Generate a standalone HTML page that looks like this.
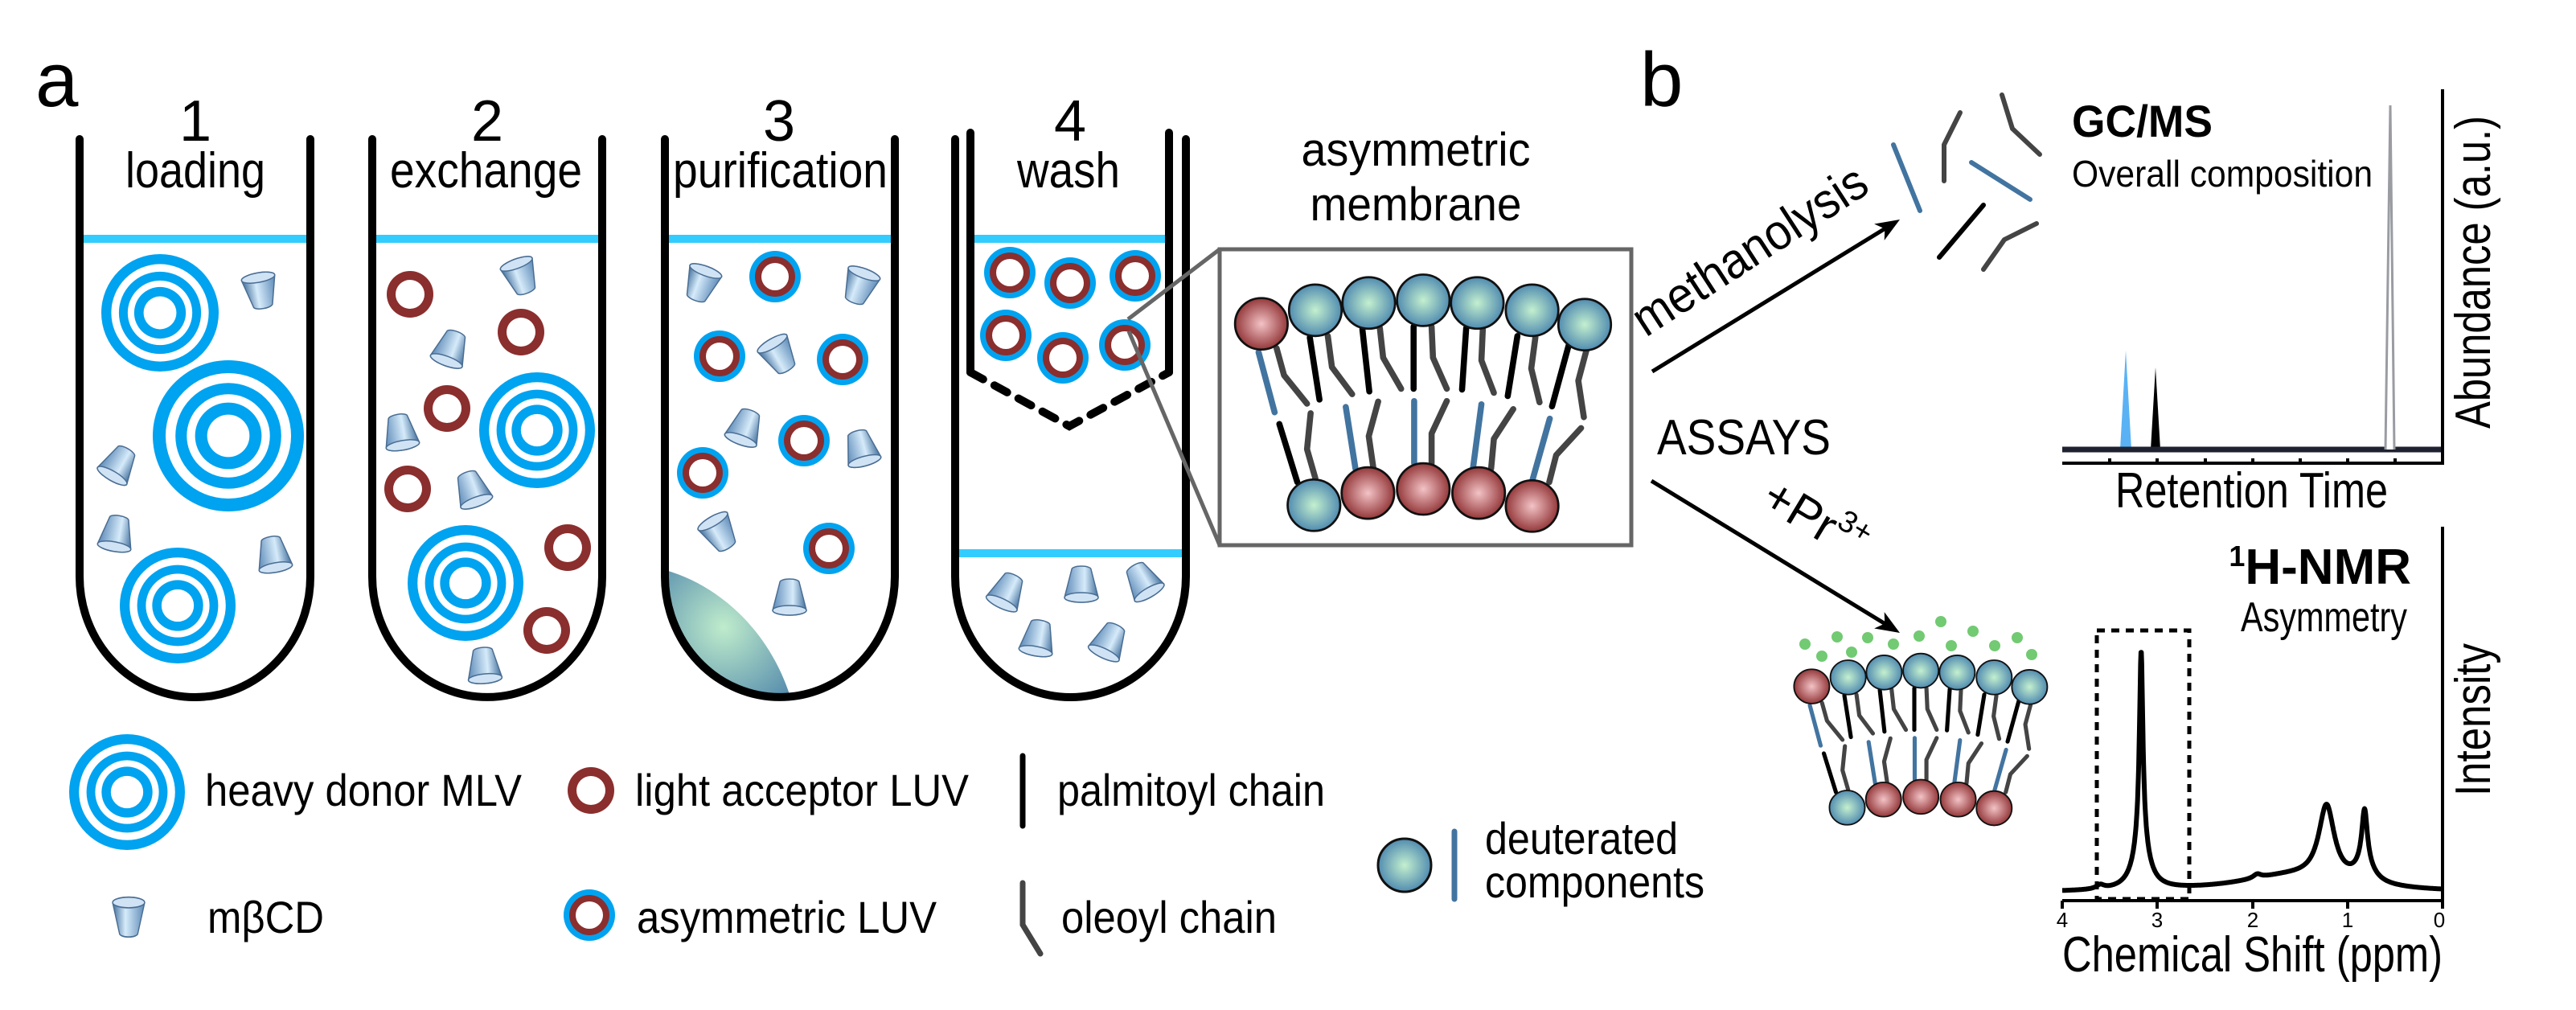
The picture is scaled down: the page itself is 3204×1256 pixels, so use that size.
<!DOCTYPE html>
<html><head><meta charset="utf-8"><style>
html,body{margin:0;padding:0;background:#fff}
svg{display:block}
text{font-family:"Liberation Sans",Arial,sans-serif;fill:#000}
</style></head><body>
<svg id="s" width="3204" height="1256" viewBox="0 0 3204 1256" xmlns="http://www.w3.org/2000/svg">
<defs>
<radialGradient id="gb" cx="0.5" cy="0.5" r="0.55"><stop offset="0" stop-color="#c4f0cf"/><stop offset="1" stop-color="#4682ad"/></radialGradient>
<radialGradient id="gr" cx="0.5" cy="0.5" r="0.55"><stop offset="0" stop-color="#f3c3c6"/><stop offset="1" stop-color="#8b2b2d"/></radialGradient>
<radialGradient id="gp" cx="900" cy="780" r="140" gradientUnits="userSpaceOnUse"><stop offset="0" stop-color="#bfeccc"/><stop offset="1" stop-color="#3f78a6"/></radialGradient>
<linearGradient id="gc" x1="0" x2="1" y1="0" y2="0"><stop offset="0" stop-color="#5d8ab8"/><stop offset="0.6" stop-color="#d6ebfa"/><stop offset="1" stop-color="#406e9c"/></linearGradient>
<g id="cd"><path d="M-12,-18 L-21,17 A21,6 0 0 0 21,17 L12,-18 A12,4 0 0 0 -12,-18 Z" fill="url(#gc)" stroke="#4a6d92" stroke-width="1.5"/><ellipse cx="0" cy="17" rx="21" ry="6" fill="#cfe3f5" stroke="#4a6d92" stroke-width="1.5"/></g>
<g id="mlv"><circle r="1" fill="#00a3f0"/><circle r="0.83" fill="#fff"/><circle r="0.7" fill="#00a3f0"/><circle r="0.55" fill="#fff"/><circle r="0.44" fill="#00a3f0"/><circle r="0.28" fill="#fff"/></g>
<g id="luv"><circle r="29" fill="#8b2e2e"/><circle r="18" fill="#fff"/></g>
<g id="aluv"><circle r="32" fill="#00a3f0"/><circle r="25" fill="#8b2e2e"/><circle r="17" fill="#fff"/></g>
<clipPath id="t3clip"><path d="M827,173 V717 A143,150 0 0 0 1113,717 V173 Z"/></clipPath>
<g id="mem">
 <g fill="none" stroke-width="22" stroke-linecap="round" stroke-linejoin="round">
  <g stroke="#4274a0"><path d="M190,410 L248,632"/><path d="M540,840 L505,612"/><path d="M752,820 L752,590"/><path d="M965,835 L995,602"/><path d="M1180,880 L1242,655"/></g>
  <g stroke="#000"><path d="M375,355 L410,585"/><path d="M565,325 L590,555"/><path d="M750,315 L750,545"/><path d="M940,320 L925,548"/><path d="M1125,350 L1090,572"/><path d="M1310,385 L1250,610"/><path d="M330,890 L265,675"/></g>
  <g stroke="#444"><path d="M255,395 L282,495 L365,600"/><path d="M440,350 L455,465 L528,565"/><path d="M628,320 L640,430 L705,545"/><path d="M815,315 L820,430 L870,545"/><path d="M1000,325 L995,440 L1040,560"/><path d="M1190,355 L1175,470 L1205,595"/><path d="M1375,400 L1345,515 L1365,650"/><path d="M395,875 L365,768 L378,635"/><path d="M605,840 L588,720 L622,592"/><path d="M815,820 L815,710 L870,590"/><path d="M1030,840 L1040,730 L1110,620"/><path d="M1240,890 L1265,790 L1355,690"/></g>
 </g>
 <g stroke="#111" stroke-width="8">
  <circle cx="200" cy="305" r="95" fill="url(#gr)"/><circle cx="395" cy="255" r="95" fill="url(#gb)"/><circle cx="588" cy="228" r="95" fill="url(#gb)"/><circle cx="785" cy="218" r="95" fill="url(#gb)"/><circle cx="980" cy="228" r="95" fill="url(#gb)"/><circle cx="1178" cy="255" r="95" fill="url(#gb)"/><circle cx="1368" cy="308" r="95" fill="url(#gb)"/>
  <circle cx="390" cy="975" r="95" fill="url(#gb)"/><circle cx="585" cy="930" r="95" fill="url(#gr)"/><circle cx="785" cy="915" r="95" fill="url(#gr)"/><circle cx="985" cy="930" r="95" fill="url(#gr)"/><circle cx="1178" cy="978" r="95" fill="url(#gr)"/>
 </g>
</g>
</defs>

<!-- labels a -->
<text x="44" y="132" font-size="96">a</text>
<g font-size="72" text-anchor="middle"><text x="243" y="175">1</text><text x="606" y="175">2</text><text x="969" y="175">3</text><text x="1331" y="175">4</text></g>
<g font-size="62"><text x="156" y="233" textLength="174" lengthAdjust="spacingAndGlyphs">loading</text><text x="485" y="233" textLength="239" lengthAdjust="spacingAndGlyphs">exchange</text><text x="837" y="233" textLength="267" lengthAdjust="spacingAndGlyphs">purification</text><text x="1265" y="233" textLength="128" lengthAdjust="spacingAndGlyphs">wash</text></g>

<!-- tube contents -->
<g id="contents"></g>
<path d="M828,709 C900,730 960,790 984,870 L828,870 Z" fill="url(#gp)" clip-path="url(#t3clip)"/>

<!-- water lines -->
<g stroke="#33ccff" stroke-width="10"><line x1="103" y1="297" x2="382" y2="297"/><line x1="467" y1="297" x2="745" y2="297"/><line x1="831" y1="297" x2="1109" y2="297"/><line x1="1212" y1="297" x2="1449" y2="297"/><line x1="1192" y1="688" x2="1470" y2="688"/></g>

<!-- tubes -->
<g fill="none" stroke="#000" stroke-width="10" stroke-linecap="round">
<path d="M99,173 V717 A143.5,150 0 0 0 386,717 V173"/>
<path d="M463,173 V717 A143,150 0 0 0 749,717 V173"/>
<path d="M827,173 V717 A143,150 0 0 0 1113,717 V173"/>
<path d="M1188,173 V717 A143.5,150 0 0 0 1475,717 V173"/>
<path d="M1207,165 V463"/><path d="M1454,165 V463"/>
<path d="M1207,463 L1330,530 L1454,463" stroke-dasharray="18,16"/>
</g>

<!-- zoom box -->
<g fill="none" stroke="#666" stroke-width="5"><rect x="1517" y="310" width="512" height="368"/><line x1="1403" y1="397" x2="1517" y2="310"/><line x1="1404" y1="412" x2="1517" y2="678"/></g>
<use href="#mem" transform="translate(1500,300) scale(0.3443,0.3367)"/>
<g font-size="58" text-anchor="middle"><text x="1761" y="206" textLength="285" lengthAdjust="spacingAndGlyphs">asymmetric</text><text x="1761" y="274" textLength="263" lengthAdjust="spacingAndGlyphs">membrane</text></g>

<!-- legend -->
<use href="#mlv" transform="translate(158,985) scale(72)"/>
<use href="#luv" transform="translate(735,983)"/>
<use href="#aluv" transform="translate(733,1138)"/>
<use href="#cd" transform="translate(160,1141) scale(0.95,1.1) rotate(180)"/>
<line x1="1272" y1="940" x2="1272" y2="1027" stroke="#000" stroke-width="7" stroke-linecap="round"/>
<path d="M1272,1098 L1272,1150 L1294,1186" fill="none" stroke="#444" stroke-width="7" stroke-linecap="round"/>
<g font-size="56"><text x="255" y="1002" textLength="394" lengthAdjust="spacingAndGlyphs">heavy donor MLV</text><text x="790" y="1002" textLength="415" lengthAdjust="spacingAndGlyphs">light acceptor LUV</text><text x="1315" y="1002" textLength="333" lengthAdjust="spacingAndGlyphs">palmitoyl chain</text>
<text x="258" y="1160" textLength="145" lengthAdjust="spacingAndGlyphs">mβCD</text><text x="792" y="1160" textLength="373" lengthAdjust="spacingAndGlyphs">asymmetric LUV</text><text x="1320" y="1160" textLength="268" lengthAdjust="spacingAndGlyphs">oleoyl chain</text>
<text x="1847" y="1062" textLength="240" lengthAdjust="spacingAndGlyphs">deuterated</text><text x="1847" y="1116" textLength="273" lengthAdjust="spacingAndGlyphs">components</text></g>
<circle cx="1747" cy="1076" r="33" fill="url(#gb)" stroke="#111" stroke-width="3"/>
<line x1="1809" y1="1034" x2="1809" y2="1118" stroke="#4274a0" stroke-width="7" stroke-linecap="round"/>

<!-- b -->
<text x="2040" y="132" font-size="96">b</text>
<line x1="2055" y1="462" x2="2345" y2="284" stroke="#000" stroke-width="5"/>
<polygon points="2363,273 2343.7,298.9 2344.3,284.5 2331.1,278.5" fill="#000"/>
<text transform="translate(2047,420) rotate(-33)" font-size="62" textLength="335" lengthAdjust="spacingAndGlyphs">methanolysis</text>
<text x="2061" y="565" font-size="62" textLength="216" lengthAdjust="spacingAndGlyphs">ASSAYS</text>
<line x1="2054" y1="598" x2="2345" y2="776" stroke="#000" stroke-width="5"/>
<polygon points="2363,787 2331.1,781.5 2344.2,775.5 2343.7,761.1" fill="#000"/>
<text transform="translate(2188,628) rotate(31)" font-size="60">+Pr<tspan font-size="38" dy="-26">3+</tspan></text>

<!-- fragments -->
<g fill="none" stroke-width="6" stroke-linecap="round" stroke-linejoin="round">
<path d="M2355,180 L2388,262" stroke="#4274a0"/><path d="M2452,202 L2525,248" stroke="#4274a0"/>
<path d="M2438,140 L2418,180 L2418,225" stroke="#444"/><path d="M2490,118 L2503,160 L2537,192" stroke="#444"/>
<path d="M2467,255 L2412,320" stroke="#000"/><path d="M2533,278 L2493,298 L2467,335" stroke="#444"/>
</g>

<!-- GC/MS -->
<text x="2577" y="170" font-size="56" font-weight="bold" textLength="175" lengthAdjust="spacingAndGlyphs">GC/MS</text>
<text x="2577" y="232" font-size="46" textLength="374" lengthAdjust="spacingAndGlyphs">Overall composition</text>
<path d="M2637,559 L2644,436 L2651,559 Z" fill="#5ab2f5"/>
<path d="M2675,559 L2681,457 L2687,559 Z" fill="#000"/>
<line x1="2565" y1="559" x2="3036" y2="559" stroke="#1e2230" stroke-width="7"/>
<path d="M2967,559 L2973,131 L2978,559" fill="#fff" stroke="#9a9ca2" stroke-width="3"/>
<g stroke="#000" stroke-width="4"><line x1="2565" y1="576" x2="3040" y2="576"/><line x1="3038" y1="111" x2="3038" y2="578"/>
<line x1="2624" y1="576" x2="2624" y2="570"/><line x1="2683" y1="576" x2="2683" y2="570"/><line x1="2743" y1="576" x2="2743" y2="570"/><line x1="2802" y1="576" x2="2802" y2="570"/><line x1="2861" y1="576" x2="2861" y2="570"/><line x1="2920" y1="576" x2="2920" y2="570"/><line x1="2979" y1="576" x2="2979" y2="570"/></g>
<text x="2631" y="631" font-size="62" textLength="339" lengthAdjust="spacingAndGlyphs">Retention Time</text>
<text transform="translate(3097,533) rotate(-90)" font-size="62" textLength="389" lengthAdjust="spacingAndGlyphs">Abundance (a.u.)</text>

<!-- small membrane -->
<g fill="#5ac15a" opacity="0.85"><circle cx="2245" cy="801" r="7"/><circle cx="2266" cy="816" r="7"/><circle cx="2285" cy="792" r="7"/><circle cx="2303" cy="811" r="7"/><circle cx="2323" cy="793" r="7"/><circle cx="2355" cy="801" r="7"/><circle cx="2387" cy="791" r="7"/><circle cx="2414" cy="773" r="7"/><circle cx="2427" cy="803" r="7"/><circle cx="2454" cy="785" r="7"/><circle cx="2481" cy="803" r="7"/><circle cx="2509" cy="793" r="7"/><circle cx="2527" cy="814" r="7"/></g>
<use href="#mem" transform="translate(2207,785) scale(0.232,0.225)"/>

<!-- NMR -->
<text x="2999" y="726" font-size="62" font-weight="bold" text-anchor="end"><tspan font-size="36" dy="-22">1</tspan><tspan dy="22">H-NMR</tspan></text>
<text x="2994" y="785" font-size="52" text-anchor="end" textLength="207" lengthAdjust="spacingAndGlyphs">Asymmetry</text>
<rect x="2608" y="784" width="115" height="334" fill="none" stroke="#000" stroke-width="5" stroke-dasharray="10,8"/>
<path id="spec" fill="none" stroke="#000" stroke-width="6" stroke-linejoin="round"/>
<g stroke="#000" stroke-width="4"><line x1="2565" y1="1120" x2="3040" y2="1120"/><line x1="3038" y1="655" x2="3038" y2="1122"/>
<line x1="2565" y1="1120" x2="2565" y2="1130"/><line x1="2683" y1="1120" x2="2683" y2="1130"/><line x1="2802" y1="1120" x2="2802" y2="1130"/><line x1="2920" y1="1120" x2="2920" y2="1130"/><line x1="3038" y1="1120" x2="3038" y2="1130"/></g>
<g font-size="26" text-anchor="middle"><text x="2565" y="1153">4</text><text x="2683" y="1153">3</text><text x="2802" y="1153">2</text><text x="2920" y="1153">1</text><text x="3034" y="1153">0</text></g>
<text x="2565" y="1208" font-size="62" textLength="473" lengthAdjust="spacingAndGlyphs">Chemical Shift (ppm)</text>
<text transform="translate(3097,990) rotate(-90)" font-size="62" textLength="190" lengthAdjust="spacingAndGlyphs">Intensity</text>
</svg>
<script>
var NS="http://www.w3.org/2000/svg",c=document.getElementById("contents");
function u(id,x,y,t){var e=document.createElementNS(NS,"use");e.setAttribute("href","#"+id);e.setAttribute("transform","translate("+x+","+y+")"+(t||""));c.appendChild(e);}
[[199,389,73],[284,542,94],[221,753,72],[668,535,72],[579,725,72]].forEach(function(m){u("mlv",m[0],m[1]," scale("+m[2]+")");});
[[510,366],[648,413],[556,508],[507,608],[706,681],[680,784]].forEach(function(p){u("luv",p[0],p[1]);});
[[964,344],[895,443],[1048,447],[1000,548],[874,588],[1031,682],[1256,339],[1331,352],[1412,343],[1251,417],[1322,445],[1399,429]].forEach(function(p){u("aluv",p[0],p[1]);});
[[324,362,170],[148,577,30],[145,663,10],[340,689,-10],[648,344,160],[561,433,20],[498,537,-10],[587,608,-20],[602,827,-5],[872,353,200],[1069,356,-160],[969,442,150],[927,531,20],[1071,557,-15],[895,663,150],[982,742,0],[1253,735,25],[1345,726,0],[1421,722,-30],[1291,793,10],[1380,797,25]].forEach(function(p){u("cd",p[0],p[1]," rotate("+p[2]+")");});
function L(x,x0,h,g){return h*g*g/(g*g+(x-x0)*(x-x0));}
var d="";for(var p=4;p>=-0.0001;p-=0.004){var v=L(p,1.6,20,0.7)+L(p,3.17,235,0.022)+L(p,3.17,62,0.09)+L(p,3.6,5,0.05)+L(p,1.95,5,0.05)+L(p,1.22,92,0.1)+L(p,0.82,68,0.035)+L(p,0.82,22,0.12);
var x=3038-p*118.25,y=1110-v;d+=(d?"L":"M")+x.toFixed(1)+","+y.toFixed(1);}
document.getElementById("spec").setAttribute("d",d);
</script>
</body></html>
